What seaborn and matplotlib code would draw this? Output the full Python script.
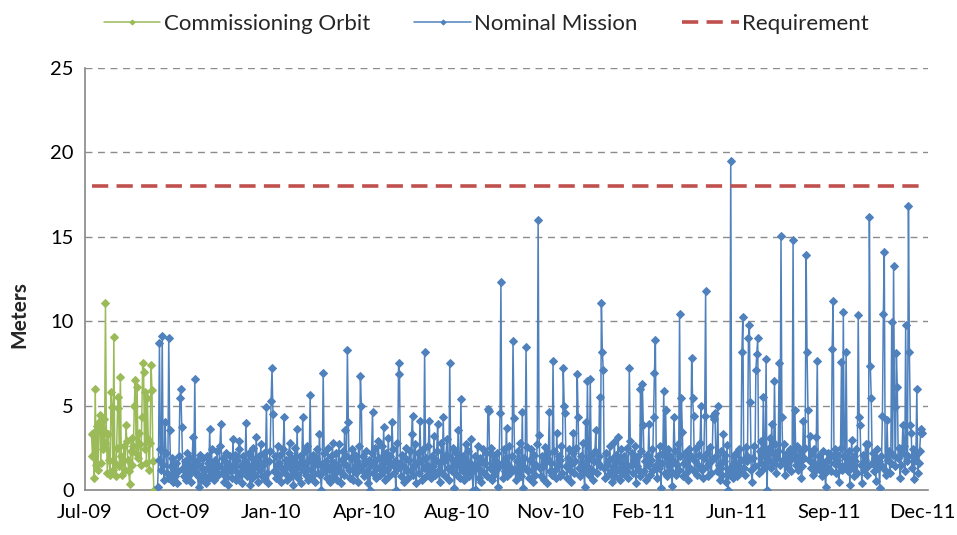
import matplotlib
matplotlib.use("Agg")
import matplotlib.pyplot as plt
import pandas as pd
import seaborn as sns

# ---------------- data ----------------
green_start = "2009-07-08"
green_vals = [3.3, 2.0, 3.4, 0.7, 6.0, 1.5, 3.8, 1.2, 4.0, 4.45,
              1.6, 3.7, 2.4, 4.2, 2.8, 11.08, 3.4, 1.0, 3.3, 1.8,
              0.9, 5.8, 4.9, 1.2, 9.06, 1.6, 0.8, 2.5, 4.85, 5.5,
              1.4, 6.7, 2.0, 0.9, 1.7, 2.6, 1.2, 3.85, 2.9, 1.8,
              1.1, 0.35, 2.3, 3.1, 1.5, 2.6, 5.0, 6.5, 2.2, 6.1,
              1.9, 3.4, 2.7, 1.5, 4.3, 7.5, 7.0, 2.4, 5.8, 1.6,
              5.45, 3.0, 1.2, 2.8, 7.4, 5.9, 1.7, 0.0]

blue_start = "2009-09-17"
blue_vals = [
    0.2, 1.8, 8.7, 2.4, 1.2, 9.1, 1.5, 0.6, 4.05, 2.2,
    1.0, 0.7, 9.0, 3.55, 1.4, 0.9, 1.9, 0.5, 1.2, 0.8,
    1.6, 0.4, 1.1, 2.0, 5.45, 6.0, 3.75, 1.3, 0.8, 1.7,
    1.1, 0.6, 2.2, 1.5, 0.9, 1.9, 0.5, 1.4, 3.15, 1.2,
    6.55, 1.0, 1.7, 0.8, 0.2, 1.5, 2.1, 0.6, 1.3, 1.9,
    0.9, 1.2, 0.4, 2.0, 1.6, 0.7, 3.6, 1.1, 2.4, 0.8,
    1.5, 0.6, 1.8, 1.1, 2.3, 0.9, 1.4, 2.6, 3.9, 1.0,
    1.9, 0.5, 1.2, 2.2, 0.8, 1.6, 0.3, 1.3, 2.0, 1.1,
    0.7, 3.0, 1.5, 2.1, 0.6, 1.8, 1.0, 2.4, 2.9, 0.9,
    1.4, 0.4, 2.0, 1.2, 1.7, 3.95, 0.8, 1.5, 2.2, 0.3,
    1.1, 1.9, 0.7, 2.5, 1.3, 0.9, 3.15, 1.6, 0.5, 2.0,
    1.2, 2.7, 0.8, 1.5, 2.2, 0.6, 1.8, 4.9, 1.0, 0.4,
    1.7, 2.3, 5.3, 7.2, 4.5, 1.1, 2.0, 0.7, 1.4, 2.6,
    0.9, 1.6, 2.1, 0.5, 1.3, 2.4, 4.3, 1.0, 1.8, 0.6,
    1.5, 2.2, 2.8, 0.8, 1.2, 1.9, 0.3, 1.6, 2.5, 1.0,
    3.6, 0.7, 1.4, 2.0, 0.4, 1.7, 4.3, 1.1, 2.3, 0.9,
    1.3, 2.6, 0.6, 1.8, 5.6, 1.2, 0.8, 2.1, 1.5, 0.5,
    1.9, 2.4, 1.0, 1.6, 3.3, 0.9, 0.0, 1.4, 6.95, 2.2,
    1.1, 1.7, 0.7, 2.5, 1.3, 0.5, 2.0, 1.2, 2.8, 0.8,
    1.6, 1.0, 2.2, 0.6, 1.4, 2.7, 1.1, 0.4, 1.8, 2.3,
    0.9, 3.55, 1.5, 2.0, 8.3, 4.0, 1.2, 0.7, 1.9, 2.4,
    0.6, 1.3, 2.1, 1.0, 1.7, 0.5, 2.6, 1.4, 6.75, 5.0,
    1.2, 2.0, 0.8, 1.6, 2.3, 1.1, 0.4, 1.8, 0.0, 1.5,
    2.2, 4.65, 1.0, 1.7, 2.5, 0.7, 1.3, 2.9, 1.9, 0.9,
    1.4, 2.6, 1.1, 3.75, 0.6, 1.8, 2.2, 1.2, 3.1, 0.8,
    2.0, 1.5, 4.0, 2.4, 1.0, 1.7, 0.0, 2.8, 1.3, 7.5,
    6.9, 1.6, 0.8, 2.1, 1.4, 0.5, 1.9, 2.5, 1.1, 0.7,
    1.8, 2.3, 1.2, 3.3, 4.4, 0.9, 1.5, 2.7, 0.4, 1.6,
    2.2, 1.0, 4.1, 1.7, 0.6, 2.4, 1.3, 8.2, 1.9, 0.8,
    1.5, 2.6, 4.1, 1.1, 0.7, 2.0, 1.4, 3.2, 0.9, 1.8,
    2.3, 3.9, 1.2, 0.5, 1.6, 2.8, 1.0, 4.35, 1.7, 0.8,
    2.1, 3.05, 1.3, 0.6, 7.5, 1.9, 1.1, 2.5, 1.4, 0.1,
    1.7, 2.2, 0.9, 3.55, 1.5, 0.7, 5.4, 1.2, 2.0, 0.6,
    1.8, 2.7, 1.0, 1.4, 2.3, 0.8, 1.6, 3.05, 1.1, 0.0,
    1.3, 2.0, 0.0, 1.5, 2.6, 0.7, 1.9, 1.2, 0.5, 1.7,
    2.45, 1.0, 1.6, 2.2, 0.8, 4.8, 4.7, 1.3, 2.5, 0.6,
    1.5, 2.1, 0.9, 1.8, 1.2, 2.2, 0.2, 1.4, 4.55, 12.3,
    1.6, 0.7, 2.4, 1.1, 1.9, 3.65, 0.8, 1.5, 2.6, 1.0,
    1.3, 2.0, 8.8, 4.25, 1.2, 0.6, 1.7, 2.3, 1.0, 2.8,
    1.4, 0.8, 4.65, 0.1, 1.9, 1.3, 8.5, 2.55, 1.1, 0.7,
    1.8, 2.4, 1.2, 0.5, 1.6, 2.1, 0.9, 1.5, 2.7, 16.0,
    3.25, 1.3, 0.8, 2.0, 1.4, 0.6, 2.55, 1.7, 0.4, 1.9,
    2.2, 4.6, 1.1, 1.6, 0.9, 7.65, 2.3, 1.2, 0.7, 3.4,
    1.5, 2.0, 0.8, 1.8, 2.6, 1.0, 7.2, 5.0, 4.55, 1.4,
    0.7, 1.9, 2.4, 1.2, 0.5, 1.6, 2.2, 3.4, 1.0, 1.7,
    2.5, 6.85, 4.35, 1.3, 0.8, 2.0, 1.5, 2.8, 1.1, 0.15,
    4.0, 1.4, 6.45, 1.8, 0.9, 6.55, 2.1, 1.2, 0.6, 1.7,
    2.3, 3.55, 1.0, 1.6, 2.0, 5.5, 1.4, 11.05, 8.2, 7.1,
    1.3, 0.7, 2.2, 1.5, 0.9, 1.8, 2.6, 1.1, 0.5, 1.9,
    1.4, 2.85, 0.8, 2.1, 1.2, 3.15, 1.7, 0.6, 2.4, 1.0,
    1.6, 2.0, 0.9, 1.3, 2.5, 1.1, 0.7, 7.25, 2.9, 1.5,
    2.2, 1.0, 1.8, 2.6, 0.4, 1.4, 2.0, 1.2, 0.8, 6.0,
    2.3, 6.3, 3.85, 1.1, 1.7, 0.6, 2.1, 1.5, 3.9, 0.9,
    1.8, 2.4, 1.2, 4.35, 6.95, 8.9, 1.5, 0.7, 2.0, 1.3,
    2.6, 0.1, 1.6, 2.2, 5.85, 1.0, 4.75, 1.9, 0.8, 2.4,
    1.4, 2.0, 1.1, 0.25, 1.7, 4.35, 2.3, 0.9, 1.5, 2.7,
    1.2, 10.45, 2.0, 5.45, 3.45, 0.8, 1.6, 2.2, 1.0, 1.8,
    0.6, 2.4, 1.3, 2.0, 7.8, 5.45, 4.4, 1.1, 1.7, 2.5,
    0.9, 1.5, 2.1, 2.8, 4.95, 1.2, 0.7, 1.9, 4.4, 11.8,
    1.4, 2.2, 0.8, 1.6, 2.55, 1.0, 1.8, 4.4, 4.2, 4.55,
    2.0, 1.1, 4.95, 1.5, 0.6, 2.3, 1.3, 0.9, 3.3, 1.7,
    2.1, 0.5, 2.65, 0.0, 1.2, 0.9, 19.5, 1.4, 0.7, 2.0,
    1.6, 1.0, 2.2, 0.8, 1.5, 2.4, 1.1, 1.8, 8.2, 10.27,
    1.3, 0.9, 2.55, 1.7, 2.0, 9.0, 9.8, 5.2, 1.2, 0.45,
    1.9, 2.6, 1.4, 7.1, 8.05, 9.0, 1.0, 2.3, 1.6, 2.9,
    1.2, 5.5, 2.0, 1.5, 7.75, 0.0, 2.4, 1.8, 3.1, 1.3,
    3.9, 2.2, 1.6, 6.45, 2.7, 1.0, 1.9, 2.3, 7.55, 1.5,
    15.05, 4.35, 1.8, 2.75, 0.9, 1.6, 2.2, 1.3, 2.0, 1.7,
    2.4, 1.1, 2.15, 14.8, 1.9, 4.75, 1.5, 2.6, 1.2, 2.0,
    1.7, 2.3, 0.7, 1.4, 4.1, 1.9, 2.5, 13.95, 8.15, 4.75,
    1.8, 3.2, 1.3, 2.2, 0.9, 1.6, 2.4, 1.1, 3.15, 7.65,
    1.5, 2.0, 1.2, 1.8, 0.8, 2.3, 1.4, 1.0, 0.15, 1.7,
    2.2, 1.3, 1.9, 2.15, 1.1, 8.33, 11.2, 1.6, 2.4, 1.0,
    1.8, 2.1, 0.45, 1.4, 2.5, 7.6, 1.2, 10.57, 2.0, 1.5,
    8.15, 1.9, 1.1, 2.3, 0.3, 1.6, 2.95, 1.3, 2.0, 0.8,
    1.7, 2.4, 1.0, 10.37, 4.35, 3.85, 1.5, 0.4, 2.1, 1.2,
    1.8, 2.75, 0.9, 2.75, 1.4, 16.2, 7.35, 5.47, 1.6, 2.2,
    1.1, 1.9, 0.55, 2.4, 1.3, 1.7, 0.1, 2.0, 1.5, 4.4,
    10.43, 14.1, 1.2, 0.9, 4.15, 1.8, 2.3, 1.0, 1.6, 9.97,
    2.1, 13.27, 4.9, 1.4, 8.14, 6.12, 1.9, 2.5, 0.7, 1.5,
    2.2, 3.85, 2.6, 1.1, 9.77, 1.7, 2.0, 16.8, 8.2, 3.85,
    3.35, 1.3, 2.4, 0.65, 1.8, 2.1, 6.0, 1.0, 1.6, 2.3,
    3.35, 3.6, 3.4]

req_dates = ["2009-07-08", "2011-12-15"]
req_vals = [18, 18]

tick_start = "2009-07-01"
tick_labels = ["Jul-09", "Oct-09", "Jan-10", "Apr-10", "Aug-10",
               "Nov-10", "Feb-11", "Jun-11", "Sep-11", "Dec-11"]
y_ticks = [0, 5, 10, 15, 20, 25]

series_names = ["Commissioning Orbit", "Nominal Mission", "Requirement"]
colors = ["#9BBB59", "#4F81BD", "#C0504D"]

# ---------------- frames ----------------
green_df = pd.DataFrame({"date": pd.date_range(green_start, periods=len(green_vals), freq="D"),
                         "m": green_vals})
blue_df = pd.DataFrame({"date": pd.date_range(blue_start, periods=len(blue_vals), freq="D"),
                        "m": blue_vals})
req_df = pd.DataFrame({"date": pd.to_datetime(req_dates), "m": req_vals})

# ---------------- plot ----------------
sns.set_style("white")
plt.rcParams["font.family"] = ["Lato", "DejaVu Sans"]

fig = plt.figure(figsize=(9.57, 5.35), dpi=100)
ax = fig.add_axes([85 / 957, 1 - 490 / 535, (928 - 85) / 957, (490 - 68) / 535])

for yv in y_ticks[1:]:
    ax.axhline(yv, color="#8C8C8C", lw=1.0, ls=(0, (5, 4)), zorder=0)

sns.lineplot(data=green_df, x="date", y="m", ax=ax, color=colors[0], lw=1.1,
             marker="D", markersize=4.2, markeredgecolor=colors[0], label=series_names[0],
             zorder=3)
sns.lineplot(data=blue_df, x="date", y="m", ax=ax, color=colors[1], lw=1.1,
             marker="D", markersize=4.2, markeredgecolor=colors[1], label=series_names[1],
             zorder=3)
sns.lineplot(data=req_df, x="date", y="m", ax=ax, color=colors[2], lw=2.6,
             linestyle=(0, (4.5, 2.3)), label=series_names[2], zorder=4)

t0 = pd.Timestamp(tick_start)
tick_dates = pd.date_range(t0, periods=len(tick_labels), freq="100D")
ax.set_xlim(t0, t0 + pd.Timedelta(days=906))
ax.set_xticks(tick_dates)
ax.set_xticklabels(tick_labels)
ax.set_ylim(0, 25)
ax.set_yticks(y_ticks)

for s in ["top", "right"]:
    ax.spines[s].set_visible(False)
for s in ["left", "bottom"]:
    ax.spines[s].set_color("#868686")
    ax.spines[s].set_linewidth(1.2)
ax.tick_params(axis="both", which="both", direction="out", length=5, width=1,
               color="#868686", labelsize=14.5, labelcolor="black")
ax.tick_params(axis="x", pad=5)
ax.tick_params(axis="y", pad=3)
ax.set_xlabel("")
ax.set_ylabel("Meters", fontsize=15, fontweight="bold")
ax.yaxis.set_label_coords(-0.066, 0.415)

ax.get_legend().remove()
h, l = ax.get_legend_handles_labels()
fig.legend(h, l, loc="upper center", bbox_to_anchor=(0.508, 1.012), ncol=3,
           frameon=False, fontsize=16, handlelength=2.55, columnspacing=2.0,
           handletextpad=0.15, markerscale=0.6)

fig.savefig("out.png", dpi=100)
